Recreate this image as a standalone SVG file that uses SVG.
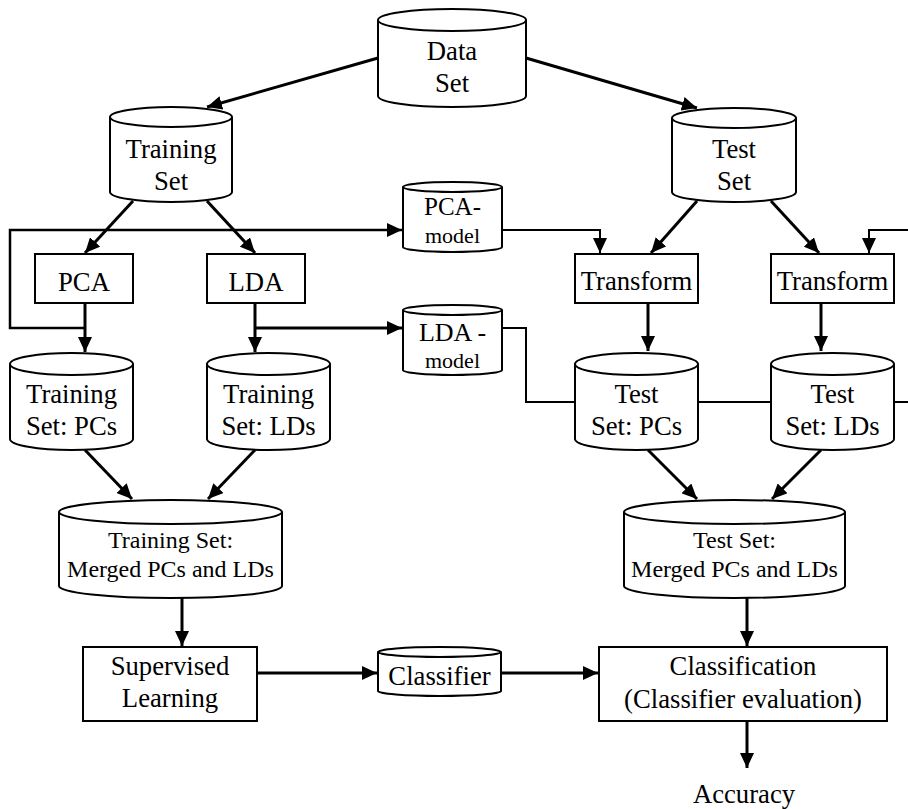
<svg xmlns="http://www.w3.org/2000/svg" width="908" height="809" viewBox="0 0 908 809">
<style>
.s{fill:#fff;stroke:#000;stroke-width:2}
.f{fill:none;stroke:#000;stroke-width:2}
.t{font-family:"Liberation Serif","Times New Roman",serif;font-size:26.7px;text-anchor:middle;fill:#000}
.m{font-size:24px}
.c{fill:none;stroke:#000;stroke-width:3}
.c2{fill:none;stroke:#000;stroke-width:2}
</style>
<defs>
<marker id="a" markerUnits="userSpaceOnUse" markerWidth="16" markerHeight="14" refX="15" refY="7" orient="auto">
<path d="M0,0 L15,7 L0,14 Z" fill="#000"/>
</marker>
</defs>
<rect width="908" height="809" fill="#fff"/>
<g id="connectors">
<path class="c" d="M378,58 L207,107" marker-end="url(#a)"/>
<path class="c" d="M526,58 L697,108" marker-end="url(#a)"/>
<path class="c" d="M133,201 L85,253" marker-end="url(#a)"/>
<path class="c" d="M207,201 L255,253" marker-end="url(#a)"/>
<path class="c" d="M85,303 L85,352" marker-end="url(#a)"/>
<path class="c2" style="stroke-width:2.5" d="M85,328 H10 V230 H402" marker-end="url(#a)"/>
<path class="c" d="M255,303 L255,352" marker-end="url(#a)"/>
<path class="c" d="M255,328 H402" marker-end="url(#a)"/>
<path class="c" d="M697,201 L651,253" marker-end="url(#a)"/>
<path class="c" d="M771,201 L819,253" marker-end="url(#a)"/>
<path class="c2" d="M502,230 H600 V253" marker-end="url(#a)"/>
<path class="c2" d="M908,230 H869 V253" marker-end="url(#a)"/>
<path class="c" d="M648,303 V351" marker-end="url(#a)"/>
<path class="c" d="M821,303 V351" marker-end="url(#a)"/>
<path class="c2" d="M502,328 H526 V402 H908"/>
<path class="c" d="M85,450 L132,499" marker-end="url(#a)"/>
<path class="c" d="M255,450 L208,499" marker-end="url(#a)"/>
<path class="c" d="M648,450 L697,499" marker-end="url(#a)"/>
<path class="c" d="M821,450 L772,499" marker-end="url(#a)"/>
<path class="c" d="M182,598 V646" marker-end="url(#a)"/>
<path class="c" d="M257,673 H377" marker-end="url(#a)"/>
<path class="c" d="M501,673 H598" marker-end="url(#a)"/>
<path class="c" d="M747,598 V646" marker-end="url(#a)"/>
<path class="c" d="M747,721 V768" marker-end="url(#a)"/>
</g>
<g id="dataset">
<path class="s" d="M378,20 A74,11 0 0 1 526,20 L526,96 A74,11 0 0 1 378,96 Z"/>
<path class="f" d="M378,20 A74,11 0 0 0 526,20"/>
<text class="t" x="452" y="60">Data</text>
<text class="t" x="452" y="92">Set</text>
</g>
<g id="trainingset">
<path class="s" d="M110,117 A61,10 0 0 1 232,117 L232,192 A61,10 0 0 1 110,192 Z"/>
<path class="f" d="M110,117 A61,10 0 0 0 232,117"/>
<text class="t" x="171" y="158">Training</text>
<text class="t" x="171" y="190">Set</text>
</g>
<g id="testset">
<path class="s" d="M672,118 A62,10 0 0 1 796,118 L796,192 A62,10 0 0 1 672,192 Z"/>
<path class="f" d="M672,118 A62,10 0 0 0 796,118"/>
<text class="t" x="734" y="158">Test</text>
<text class="t" x="734" y="190">Set</text>
</g>
<g id="pcamodel">
<path class="s" d="M403,187 A49.5,5 0 0 1 502,187 L502,247 A49.5,5 0 0 1 403,247 Z"/>
<path class="f" d="M403,187 A49.5,5 0 0 0 502,187"/>
<text class="t" x="452.5" y="215" style="font-size:25px">PCA-</text>
<text class="t" x="452.5" y="243" style="font-size:22px">model</text>
</g>
<g id="ldamodel">
<path class="s" d="M403,310 A49.5,5 0 0 1 502,310 L502,370 A49.5,5 0 0 1 403,370 Z"/>
<path class="f" d="M403,310 A49.5,5 0 0 0 502,310"/>
<text class="t" x="452.5" y="341" style="font-size:26px">LDA -</text>
<text class="t" x="452.5" y="368" style="font-size:22px">model</text>
</g>
<g id="pca">
<rect class="s" x="35" y="254" width="98" height="49"/>
<text class="t" x="84" y="291">PCA</text>
</g>
<g id="lda">
<rect class="s" x="207" y="254" width="98" height="49"/>
<text class="t" x="256" y="291">LDA</text>
</g>
<g id="transform1">
<rect class="s" x="575" y="254" width="123" height="49"/>
<text class="t" x="636.5" y="290">Transform</text>
</g>
<g id="transform2">
<rect class="s" x="771" y="254" width="123" height="49"/>
<text class="t" x="832.5" y="290">Transform</text>
</g>
<g id="trainpcs">
<path class="s" d="M10,364 A61.5,11 0 0 1 133,364 L133,439 A61.5,11 0 0 1 10,439 Z"/>
<path class="f" d="M10,364 A61.5,11 0 0 0 133,364"/>
<text class="t" x="71.5" y="403">Training</text>
<text class="t" x="71.5" y="435">Set: PCs</text>
</g>
<g id="trainlds">
<path class="s" d="M207,364 A61.5,11 0 0 1 330,364 L330,439 A61.5,11 0 0 1 207,439 Z"/>
<path class="f" d="M207,364 A61.5,11 0 0 0 330,364"/>
<text class="t" x="268.5" y="403">Training</text>
<text class="t" x="268.5" y="435">Set: LDs</text>
</g>
<g id="testpcs">
<path class="s" d="M575,364 A61.5,11 0 0 1 698,364 L698,439 A61.5,11 0 0 1 575,439 Z"/>
<path class="f" d="M575,364 A61.5,11 0 0 0 698,364"/>
<text class="t" x="636.5" y="403">Test</text>
<text class="t" x="636.5" y="435">Set: PCs</text>
</g>
<g id="testlds">
<path class="s" d="M771,364 A61.5,11 0 0 1 894,364 L894,439 A61.5,11 0 0 1 771,439 Z"/>
<path class="f" d="M771,364 A61.5,11 0 0 0 894,364"/>
<text class="t" x="832.5" y="403">Test</text>
<text class="t" x="832.5" y="435">Set: LDs</text>
</g>
<g id="mergedtrain">
<path class="s" d="M59,512 A111.5,12 0 0 1 282,512 L282,586 A111.5,12 0 0 1 59,586 Z"/>
<path class="f" d="M59,512 A111.5,12 0 0 0 282,512"/>
<text class="t m" x="170.5" y="548">Training Set:</text>
<text class="t m" x="170.5" y="577">Merged PCs and LDs</text>
</g>
<g id="mergedtest">
<path class="s" d="M624,512 A110.5,12 0 0 1 845,512 L845,586 A110.5,12 0 0 1 624,586 Z"/>
<path class="f" d="M624,512 A110.5,12 0 0 0 845,512"/>
<text class="t m" x="734.5" y="548">Test Set:</text>
<text class="t m" x="734.5" y="577">Merged PCs and LDs</text>
</g>
<g id="supervised">
<rect class="s" x="83" y="647" width="174" height="74"/>
<text class="t" x="170" y="675">Supervised</text>
<text class="t" x="170" y="707">Learning</text>
</g>
<g id="classifier">
<path class="s" d="M378,652 A61.5,5 0 0 1 501,652 L501,691 A61.5,5 0 0 1 378,691 Z"/>
<path class="f" d="M378,652 A61.5,5 0 0 0 501,652"/>
<text class="t" x="439.5" y="685">Classifier</text>
</g>
<g id="classification">
<rect class="s" x="599" y="647" width="288" height="74"/>
<text class="t" x="743" y="675">Classification</text>
<text class="t" x="743" y="708">(Classifier evaluation)</text>
</g>
<g id="accuracy">
<text class="t" x="744" y="803">Accuracy</text>
</g>
</svg>
